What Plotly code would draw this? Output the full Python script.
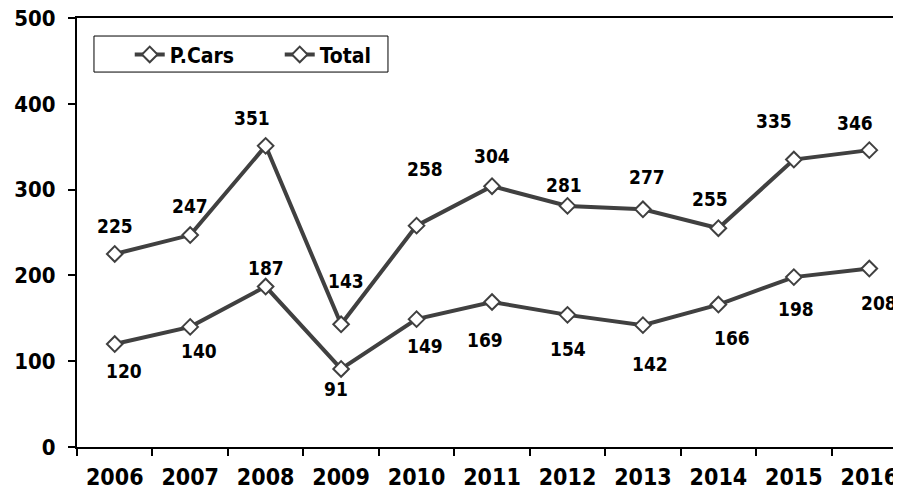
import plotly.graph_objects as go

years = ["2006", "2007", "2008", "2009", "2010", "2011", "2012", "2013", "2014", "2015", "2016"]
pcars = [120, 140, 187, 91, 149, 169, 154, 142, 166, 198, 208]
total = [225, 247, 351, 143, 258, 304, 281, 277, 255, 335, 346]

# label offsets in pixels (dx, dy screen-down)
pcars_label_off = [(9, 27), (9, 24), (0, -19), (-5, 20), (8, 27), (-7, 38), (1, 34), (7, 39), (14, 33), (2, 32), (10, 34)]
total_label_off = [(0, -28), (0, -29), (-14, -28), (5, -43), (8, -57), (0, -30), (-3, -21), (4, -32), (-8, -29), (-20, -39), (-14, -27)]

FONT = "DejaVu Sans Condensed, DejaVu Sans, sans-serif"
LINE_COLOR = "#404040"

fig = go.Figure()
for name, vals in [("P.Cars", pcars), ("Total", total)]:
    fig.add_trace(go.Scatter(
        x=years, y=vals, name=name, mode="lines+markers",
        line=dict(color=LINE_COLOR, width=4),
        marker=dict(symbol="diamond", size=12, color="white",
                    line=dict(color=LINE_COLOR, width=2)),
        cliponaxis=False,
    ))

annotations = []
for vals, offs in [(pcars, pcars_label_off), (total, total_label_off)]:
    for i, (v, (dx, dy)) in enumerate(zip(vals, offs)):
        annotations.append(dict(
            x=i, y=v, xref="x", yref="y", text=f"<b>{v}</b>", showarrow=False,
            xshift=dx, yshift=-dy, xanchor="center", yanchor="middle",
            font=dict(family=FONT, size=19, color="black"),
        ))

# page body has an 8px offset; plot area: left 69, top 10, width 824, height 429
fig.update_layout(
    width=893, height=485,
    margin=dict(l=69, r=0, t=10, b=46),
    paper_bgcolor="white", plot_bgcolor="white",
    font=dict(family=FONT, color="black"),
    showlegend=True,
    legend=dict(
        orientation="h", x=0.064, y=0.962, xanchor="left", yanchor="top",
        borderwidth=0, bgcolor="rgba(0,0,0,0)",
        font=dict(family=FONT, size=21, color="black", weight="bold"),
        entrywidth=105,
    ),
    shapes=[dict(type="rect", xref="paper", yref="paper",
                 x0=0.0206, x1=0.3774, y0=0.874, y1=0.958,
                 line=dict(color="black", width=1), fillcolor="rgba(0,0,0,0)",
                 layer="below")],
    annotations=annotations,
)
fig.update_xaxes(
    type="category", range=[-0.5, 10.42], tickson="boundaries",
    ticks="outside", ticklen=7, tickwidth=2, tickcolor="black",
    showline=True, linecolor="black", linewidth=2, mirror=True,
    showgrid=False, zeroline=False, automargin=False,
    tickfont=dict(family=FONT, size=23, color="black", weight="bold"),
    ticklabelstandoff=8, ticklabeloverflow="allow",
)
fig.update_yaxes(
    range=[0, 500], tickvals=[0, 100, 200, 300, 400, 500],
    ticks="outside", ticklen=7, tickwidth=2, tickcolor="black",
    showline=True, linecolor="black", linewidth=2,
    showgrid=False, zeroline=False, automargin=False,
    tickfont=dict(family=FONT, size=22, color="black", weight="bold"),
    ticklabelstandoff=8, ticklabeloverflow="allow",
)

fig.write_html("out.html")
